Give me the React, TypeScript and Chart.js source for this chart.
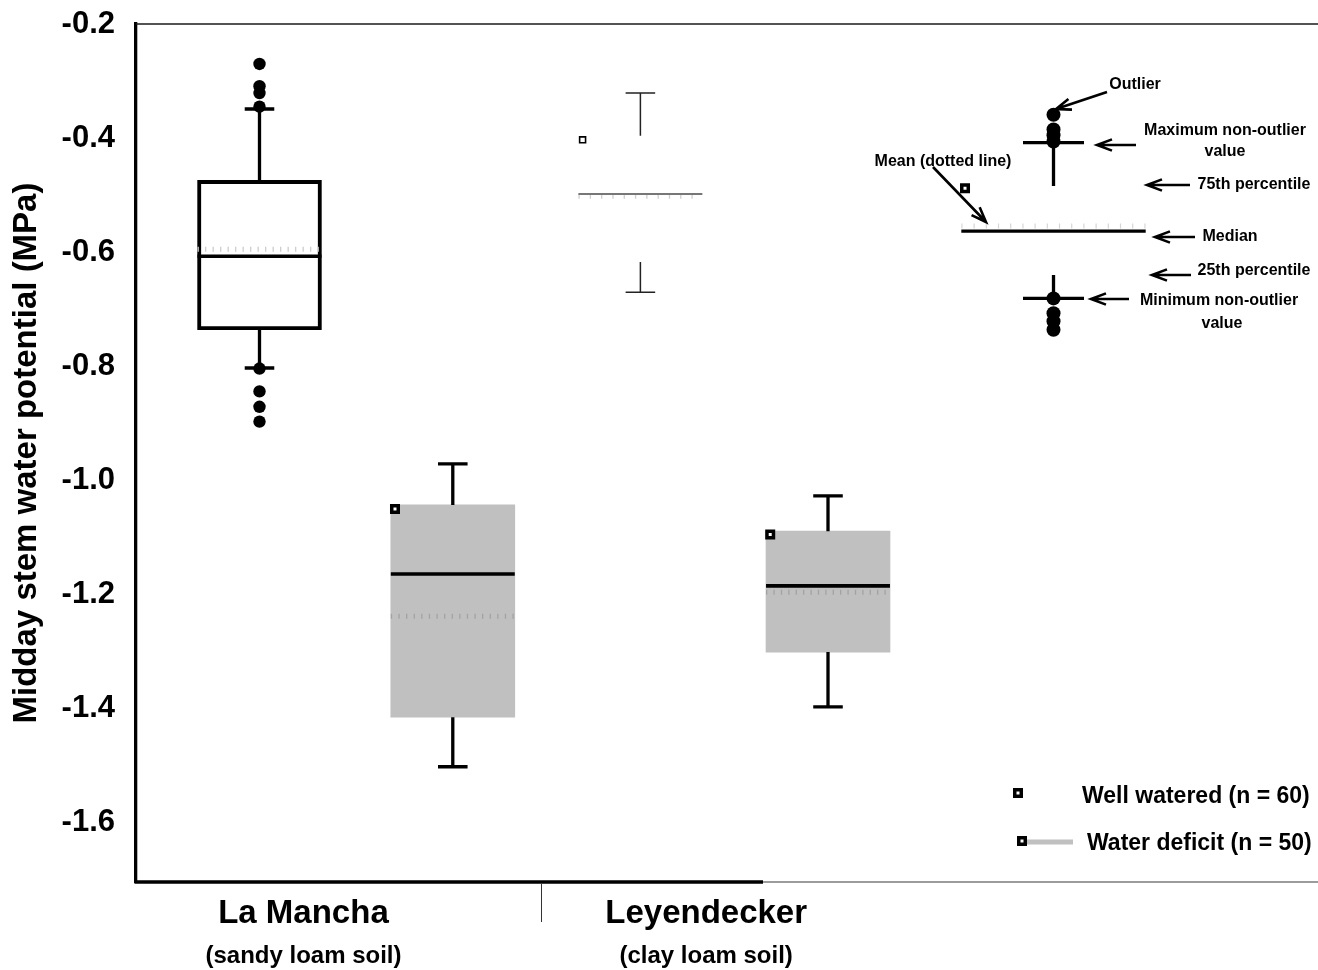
import React, { useEffect, useRef } from 'react';
import { Chart, registerables } from 'chart.js';

Chart.register(...registerables);

const FONT = '"Liberation Sans", Arial, Helvetica, sans-serif';

// ---------------- data ----------------
const boxNames = ['La Mancha – well watered', 'La Mancha – water deficit', 'Leyendecker – well watered', 'Leyendecker – water deficit'];
const boxPositions = [1, 2.02, 3.01, 4];
const q1Values = [-0.736, -1.415, -0.617, -1.301];
const q3Values = [-0.474, -1.043, -0.396, -1.089];
const medianValues = [-0.607, -1.164, -0.498, -1.185];
const meanValues = [-0.595, -1.238, -0.502, -1.196];
const whiskerLowValues = [-0.803, -1.502, -0.670, -1.397];
const whiskerHighValues = [-0.349, -0.971, -0.321, -1.027];
const squareValues = [null, -1.050, -0.403, -1.095];
const laManchaWWOutliers = [-0.270, -0.309, -0.321, -0.345, -0.804, -0.844, -0.871, -0.897];

// explanatory key box
const keyPosition = 5.19;
const keyWhiskerHigh = -0.408;
const keyQ3 = -0.484;
const keyMedian = -0.563;
const keyMean = -0.554;
const keyQ1 = -0.640;
const keyWhiskerLow = -0.681;
const keySquare = -0.488;
const keyOutliers = [-0.359, -0.385, -0.395, -0.406, -0.681, -0.707, -0.721, -0.736];

const categoryNames = ['La Mancha', 'Leyendecker'];
const soilNames = ['(sandy loam soil)', '(clay loam soil)'];
const seriesNames = ['Well watered (n = 60)', 'Water deficit (n = 50)'];
const yTickValues = [-0.2, -0.4, -0.6, -0.8, -1.0, -1.2, -1.4, -1.6];
const yAxisTitle = 'Midday stem water potential (MPa)';
const Y_MIN = -1.704;
const Y_MAX = -0.2;

// ---------------- layout / style ----------------
const X_MIN = 0.3483;
const X_MAX = 6.5857;
const BOX_HALF = 0.327;
const CAP_HALF = 0.078;
const KEY_CAP_HALF = 0.161;
const KEY_MEDIAN_HALF = 0.4865;
const SQUARE_OFFSET = -0.305;
const KEY_SQUARE_OFFSET = -0.467;
const CATEGORY_LABEL_X = [1.232, 3.357];
const GROUP_DIVIDER_X = 2.4855;
const AXIS_BLACK_END_X = 3.657;
const boxFill = ['rgba(0,0,0,0)', '#c0c0c0', 'rgba(0,0,0,0)', '#c0c0c0'];
const boxBorder = [3.3, 0, 0, 0];
const meanStyles = [
  { color: '#cdcdcd', dash: [1.3, 6.2] },
  { color: '#a3a3a3', dash: [1.3, 6.3] },
  { color: '#cfcfcf', dash: [1.3, 10] },
  { color: '#a3a3a3', dash: [1.3, 6.1] },
];

type Seg = [number, number, number, number];

function segData(segs: Seg[]) {
  const out: any[] = [];
  segs.forEach((s, i) => {
    if (i > 0) out.push({ x: s[0], y: null });
    out.push({ x: s[0], y: s[1] }, { x: s[2], y: s[3] });
  });
  return out;
}

function lineDs(label: string, segs: Seg[], color: string, width: number, order: number, dash: number[] = []) {
  return {
    type: 'line',
    label,
    data: segData(segs),
    borderColor: color,
    borderWidth: width,
    borderDash: dash,
    borderCapStyle: 'butt',
    borderJoinStyle: 'miter',
    pointRadius: 0,
    fill: false,
    tension: 0,
    spanGaps: false,
    order,
  };
}

function whiskerSegs(p: number, lo: number, q1: number, q3: number, hi: number, cap: number): Seg[] {
  return [
    [p, q3, p, hi],
    [p - cap, hi, p + cap, hi],
    [p, q1, p, lo],
    [p - cap, lo, p + cap, lo],
  ];
}

function buildDatasets() {
  const ds: any[] = [];
  ds.push({
    type: 'bar',
    label: 'boxes',
    data: boxPositions.map((p, i) => ({ x: p, y: [q1Values[i], q3Values[i]] })),
    backgroundColor: boxFill,
    borderColor: '#000',
    borderWidth: boxBorder,
    borderSkipped: false,
    barThickness: 124,
    order: 10,
  });

  const thick = [0, 1, 3];
  const thickWhiskers: Seg[] = [];
  thick.forEach((i) => {
    thickWhiskers.push(...whiskerSegs(boxPositions[i], whiskerLowValues[i], q1Values[i], q3Values[i], whiskerHighValues[i], CAP_HALF));
  });
  ds.push(lineDs('whiskers', thickWhiskers, '#000', 3.3, 5));
  ds.push(lineDs('whiskers thin', whiskerSegs(boxPositions[2], whiskerLowValues[2], q1Values[2], q3Values[2], whiskerHighValues[2], CAP_HALF), '#222', 1.5, 5));
  ds.push(lineDs('key whiskers', whiskerSegs(keyPosition, keyWhiskerLow, keyQ1, keyQ3, keyWhiskerHigh, KEY_CAP_HALF), '#000', 3.3, 5));

  // means (dotted)
  boxPositions.forEach((p, i) => {
    ds.push(lineDs('mean ' + boxNames[i], [[p - BOX_HALF, meanValues[i], p + BOX_HALF, meanValues[i]]], meanStyles[i].color, 5, 8, meanStyles[i].dash));
  });
  ds.push(lineDs('key mean', [[keyPosition - KEY_MEDIAN_HALF, keyMean, keyPosition + KEY_MEDIAN_HALF, keyMean]], '#d6d6d6', 5, 8, [1.2, 11]));

  // medians
  const medSegs: Seg[] = thick.map((i) => [boxPositions[i] - BOX_HALF, medianValues[i], boxPositions[i] + BOX_HALF, medianValues[i]] as Seg);
  ds.push(lineDs('medians', medSegs, '#000', 3.6, 6));
  ds.push(lineDs('median thin', [[boxPositions[2] - BOX_HALF, medianValues[2], boxPositions[2] + BOX_HALF, medianValues[2]]], '#777', 2, 6));
  ds.push(lineDs('key median', [[keyPosition - KEY_MEDIAN_HALF, keyMedian, keyPosition + KEY_MEDIAN_HALF, keyMedian]], '#000', 3.3, 6));

  // outliers
  ds.push({
    type: 'scatter',
    label: 'outliers',
    data: laManchaWWOutliers.map((v) => ({ x: boxPositions[0], y: v })),
    pointRadius: 6.2,
    pointStyle: 'circle',
    pointBackgroundColor: '#000',
    pointBorderWidth: 0,
    showLine: false,
    order: 2,
  });
  ds.push({
    type: 'scatter',
    label: 'key outliers',
    data: keyOutliers.map((v) => ({ x: keyPosition, y: v })),
    pointRadius: 7,
    pointStyle: 'circle',
    pointBackgroundColor: '#000',
    pointBorderWidth: 0,
    showLine: false,
    order: 2,
  });

  // squares
  const sq: any[] = [];
  [1, 3].forEach((i) => sq.push({ x: boxPositions[i] + SQUARE_OFFSET, y: squareValues[i] }));
  sq.push({ x: keyPosition + KEY_SQUARE_OFFSET, y: keySquare });
  ds.push({
    type: 'scatter',
    label: 'squares',
    data: sq,
    pointStyle: 'rect',
    pointRadius: 4.6,
    pointBorderWidth: 3.5,
    pointBorderColor: '#000',
    pointBackgroundColor: '#fff',
    showLine: false,
    order: 1,
  });
  ds.push({
    type: 'scatter',
    label: 'square thin',
    data: [{ x: boxPositions[2] + SQUARE_OFFSET, y: squareValues[2] }],
    pointStyle: 'rect',
    pointRadius: 4.2,
    pointBorderWidth: 1.6,
    pointBorderColor: '#000',
    pointBackgroundColor: '#fff',
    showLine: false,
    order: 1,
  });
  return ds;
}

const annotationTexts = [
  { text: 'Outlier', x: 1135, y: 85 },
  { text: 'Maximum non-outlier', x: 1225, y: 131 },
  { text: 'value', x: 1225, y: 152 },
  { text: 'Mean (dotted line)', x: 943, y: 162 },
  { text: '75th percentile', x: 1254, y: 185 },
  { text: 'Median', x: 1230, y: 237 },
  { text: '25th percentile', x: 1254, y: 271 },
  { text: 'Minimum non-outlier', x: 1219, y: 301 },
  { text: 'value', x: 1222, y: 324 },
];

const annotationArrows: Seg[] = [
  [1107, 92, 1056, 109],
  [1136, 145, 1097, 145],
  [933, 167, 986, 222],
  [1190, 185, 1147, 185],
  [1195, 237, 1155, 237],
  [1191, 275, 1152, 275],
  [1129, 299, 1091, 299],
];

function arrow(ctx: CanvasRenderingContext2D, s: Seg) {
  const [x1, y1, x2, y2] = s;
  const ang = Math.atan2(y2 - y1, x2 - x1);
  const L = 16;
  const spread = 0.36;
  ctx.beginPath();
  ctx.moveTo(x1, y1);
  ctx.lineTo(x2, y2);
  ctx.moveTo(x2 - L * Math.cos(ang - spread), y2 - L * Math.sin(ang - spread));
  ctx.lineTo(x2, y2);
  ctx.lineTo(x2 - L * Math.cos(ang + spread), y2 - L * Math.sin(ang + spread));
  ctx.stroke();
}

function legendSquare(ctx: CanvasRenderingContext2D, cx: number, cy: number) {
  ctx.fillStyle = '#000';
  ctx.fillRect(cx - 5, cy - 5, 10, 10);
  ctx.fillStyle = '#fff';
  ctx.fillRect(cx - 1.5, cy - 1.5, 3, 3);
}

const decorPlugin = {
  id: 'decor',
  afterDraw(chart: any) {
    const { ctx, chartArea: a, scales } = chart;
    const xs = scales.x;
    ctx.save();
    ctx.lineCap = 'butt';
    // top frame line
    ctx.strokeStyle = '#1a1a1a';
    ctx.lineWidth = 1.5;
    ctx.beginPath();
    ctx.moveTo(a.left, a.top);
    ctx.lineTo(a.right, a.top);
    ctx.stroke();
    // bottom axis line
    const blackEnd = xs.getPixelForValue(AXIS_BLACK_END_X);
    ctx.strokeStyle = '#000';
    ctx.lineWidth = 3.3;
    ctx.beginPath();
    ctx.moveTo(a.left - 1.5, a.bottom);
    ctx.lineTo(blackEnd, a.bottom);
    ctx.stroke();
    ctx.strokeStyle = '#7a7a7a';
    ctx.lineWidth = 1.4;
    ctx.beginPath();
    ctx.moveTo(blackEnd, a.bottom);
    ctx.lineTo(a.right, a.bottom);
    ctx.stroke();
    // group divider
    const dx = Math.round(xs.getPixelForValue(GROUP_DIVIDER_X)) + 0.5;
    ctx.strokeStyle = '#333';
    ctx.lineWidth = 1;
    ctx.beginPath();
    ctx.moveTo(dx, a.bottom + 1.5);
    ctx.lineTo(dx, a.bottom + 40);
    ctx.stroke();
    // category labels
    ctx.fillStyle = '#000';
    ctx.textAlign = 'center';
    ctx.textBaseline = 'alphabetic';
    categoryNames.forEach((name, i) => {
      const cx = xs.getPixelForValue(CATEGORY_LABEL_X[i]);
      ctx.font = `bold 33px ${FONT}`;
      ctx.fillText(name, cx, a.bottom + 41);
      ctx.font = `bold 24px ${FONT}`;
      ctx.fillText(soilNames[i], cx, a.bottom + 81);
    });
    // key annotations
    ctx.font = `bold 16px ${FONT}`;
    ctx.textBaseline = 'middle';
    annotationTexts.forEach((t) => ctx.fillText(t.text, t.x, t.y));
    ctx.strokeStyle = '#000';
    ctx.lineWidth = 2.6;
    ctx.lineJoin = 'miter';
    annotationArrows.forEach((s) => arrow(ctx, s));
    // legend
    ctx.fillStyle = '#c0c0c0';
    ctx.fillRect(1023, 839.5, 50, 5);
    legendSquare(ctx, 1018, 793);
    legendSquare(ctx, 1022, 841);
    ctx.fillStyle = '#000';
    ctx.textAlign = 'left';
    ctx.font = `bold 23px ${FONT}`;
    ctx.fillText(seriesNames[0], 1082, 797);
    ctx.fillText(seriesNames[1], 1087, 844);
    ctx.restore();
  },
};

export default function App() {
  const ref = useRef<HTMLCanvasElement>(null);
  useEffect(() => {
    document.body.style.margin = '0';
    const canvas = ref.current as HTMLCanvasElement;
    const chart = new Chart(canvas, {
      type: 'scatter',
      data: { datasets: buildDatasets() },
      options: {
        responsive: false,
        maintainAspectRatio: false,
        devicePixelRatio: 1,
        animation: false,
        events: [],
        layout: { autoPadding: false, padding: { top: 24, right: 0, bottom: 88, left: 0 } },
        plugins: { legend: { display: false }, tooltip: { enabled: false } },
        scales: {
          x: { type: 'linear', min: X_MIN, max: X_MAX, display: false, offset: false },
          y: {
            type: 'linear',
            position: 'left',
            min: Y_MIN,
            max: Y_MAX,
            bounds: 'data',
            afterBuildTicks: (s: any) => {
              s.ticks = yTickValues.map((v) => ({ value: v }));
            },
            afterFit: (s: any) => {
              s.width = 136;
              s.paddingTop = 0;
              s.paddingBottom = 0;
            },
            ticks: {
              color: '#000',
              padding: 21,
              font: { family: FONT, size: 31, weight: 'bold' },
              callback: (v: any) => Number(v).toFixed(1),
            },
            grid: { display: false, drawTicks: false },
            border: { display: true, width: 3.3, color: '#000' },
            title: {
              display: true,
              text: yAxisTitle,
              color: '#000',
              font: { family: FONT, size: 33, weight: 'bold' },
              padding: { top: 7, bottom: 0 },
            },
          },
        },
      } as any,
      plugins: [decorPlugin],
    } as any);
    return () => chart.destroy();
  }, []);
  return (
    <div style={{ width: 1318, height: 970 }}>
      <canvas ref={ref} width={1318} height={970} style={{ display: 'block', width: 1318, height: 970 }} />
    </div>
  );
}
